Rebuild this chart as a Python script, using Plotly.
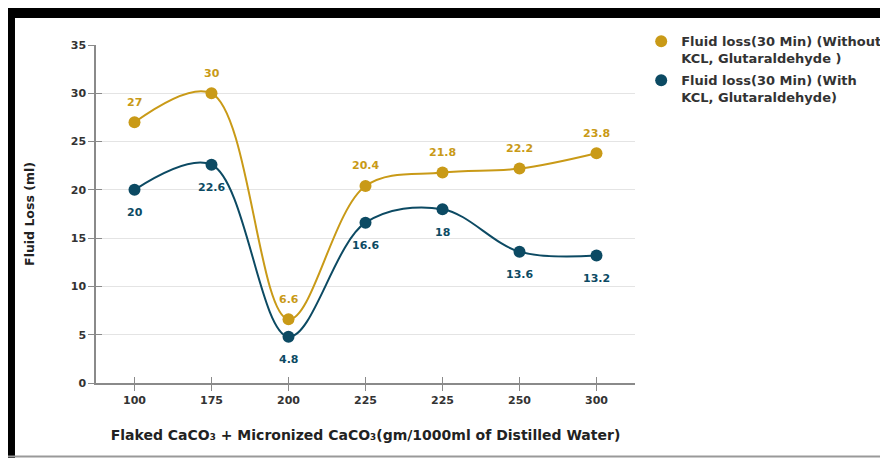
import plotly.graph_objects as go

categories = ["100", "175", "200", "225", "225", "250", "300"]
without_kcl = [27, 30, 6.6, 20.4, 21.8, 22.2, 23.8]
with_kcl = [20, 22.6, 4.8, 16.6, 18, 13.6, 13.2]
name_without = "Fluid loss(30 Min) (Without<br>KCL, Glutaraldehyde )"
name_with = "Fluid loss(30 Min) (With<br>KCL, Glutaraldehyde)"

GOLD = "#C99A17"
TEAL = "#0C4A63"
xs = list(range(len(categories)))
FONT = "DejaVu Sans"

fig = go.Figure()
fig.add_trace(go.Scatter(
    x=xs, y=without_kcl, mode="lines+markers",
    line=dict(color=GOLD, width=2, shape="spline", smoothing=1),
    marker=dict(color=GOLD, size=12),
    showlegend=False, cliponaxis=False))
fig.add_trace(go.Scatter(
    x=xs, y=with_kcl, mode="lines+markers",
    line=dict(color=TEAL, width=2, shape="spline", smoothing=1),
    marker=dict(color=TEAL, size=12),
    showlegend=False, cliponaxis=False))
fig.add_trace(go.Scatter(x=[None], y=[None], mode="markers", name=name_without,
                         legendgroup="a", marker=dict(color=GOLD, size=12)))
fig.add_trace(go.Scatter(x=[None], y=[None], mode="markers", name=name_with,
                         legendgroup="b", marker=dict(color=TEAL, size=12)))
# invisible trace to carry overlay axes (ticks crossing the axis lines)
fig.add_trace(go.Scatter(x=xs, y=with_kcl, xaxis="x2", yaxis="y2", mode="markers",
                         marker=dict(opacity=0), showlegend=False, hoverinfo="skip"))

annotations = []
for x, v in zip(xs, without_kcl):
    annotations.append(dict(x=x, y=v, text=str(v), showarrow=False, yshift=20,
                            font=dict(color=GOLD, size=11, family=FONT, weight="bold")))
for x, v in zip(xs, with_kcl):
    annotations.append(dict(x=x, y=v, text=str(v), showarrow=False, yshift=-23,
                            font=dict(color=TEAL, size=11, family=FONT, weight="bold")))

tickfont = dict(size=11, family=FONT, color="#333333", weight="bold")
fig.update_layout(
    width=910, height=458,
    margin=dict(l=88, r=283, t=37, b=83),
    paper_bgcolor="white", plot_bgcolor="white",
    font=dict(family=FONT, color="#333333", size=11),
    annotations=annotations,
    legend=dict(x=1.0115, y=1.055, xanchor="left", yanchor="top", valign="top",
                font=dict(size=13, family=FONT, color="#333333", weight="bold"),
                tracegroupgap=2, itemsizing="constant"),
    xaxis=dict(
        range=[-0.5, 6.5], tickmode="array", tickvals=xs, ticktext=categories,
        showgrid=False, zeroline=False, showline=True, linecolor="#8a8a8a", linewidth=1.5,
        ticks="outside", ticklen=6, tickcolor="#8a8a8a",
        tickfont=tickfont,
        title=dict(text="Flaked CaCO₃ + Micronized CaCO₃(gm/1000ml of Distilled Water)",
                   font=dict(size=14, family=FONT, color="#222222", weight="bold"),
                   standoff=24),
    ),
    yaxis=dict(
        range=[0, 35], dtick=5, showgrid=True, gridcolor="#e4e4e4", gridwidth=1.2,
        zeroline=False, showline=True, linecolor="#8a8a8a", linewidth=1.5,
        ticks="outside", ticklen=6, tickcolor="#8a8a8a",
        tickfont=tickfont,
        title=dict(text="Fluid Loss (ml)\u00a0\u00a0\u00a0\u00a0",
                   font=dict(size=12.5, family=FONT, color="#222222", weight="bold"),
                   standoff=33),
    ),
    xaxis2=dict(overlaying="x", anchor="y2", side="bottom", range=[-0.5, 6.5],
                tickmode="array", tickvals=xs,
                showticklabels=False, ticks="inside", ticklen=6, tickcolor="#8a8a8a",
                showgrid=False, zeroline=False, showline=False),
    yaxis2=dict(overlaying="y", anchor="x2", side="left", range=[0, 35], dtick=5,
                showticklabels=False,
                ticks="inside", ticklen=6, tickcolor="#8a8a8a",
                showgrid=False, zeroline=False, showline=False),
    shapes=[
        dict(type="rect", xref="paper", yref="paper", x0=-0.1651, x1=1.5, y0=1.0799, y1=1.11,
             fillcolor="black", line=dict(width=0)),
        dict(type="rect", xref="paper", yref="paper", x0=-0.1651, x1=-0.1503, y0=-0.26, y1=1.11,
             fillcolor="black", line=dict(width=0)),
        dict(type="line", xref="paper", yref="paper", x0=-0.1651, x1=1.5, y0=-0.2175, y1=-0.2175,
             line=dict(color="#999999", width=2)),
    ],
)

fig.write_html("out.html")
